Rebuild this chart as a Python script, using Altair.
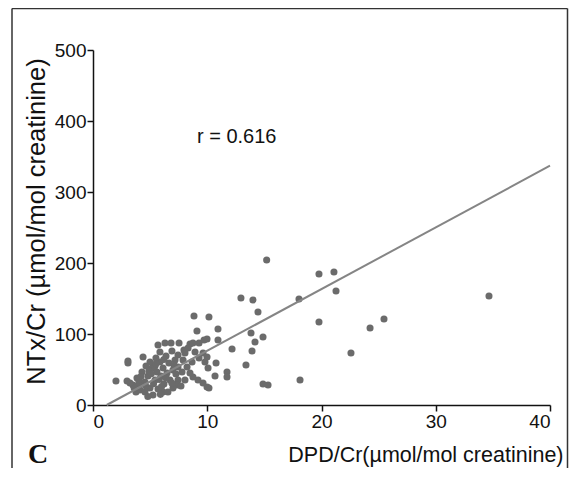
import altair as alt
import pandas as pd

# DPD/Cr (x) and NTx/Cr (y) values
dpd = [15.2, 12.95, 14.0, 14.44, 8.84, 10.15, 19.78, 21.09, 21.27, 18.03,
       19.78, 25.47, 24.25, 22.58, 34.66, 18.12, 14.88, 15.32, 13.83, 14.18,
       13.92, 14.88, 13.39, 12.17, 9.1, 10.94, 10.94, 10.77, 11.73, 11.73,
       10.68, 10.15, 9.98, 9.63, 9.19, 8.75, 8.49, 8.23, 9.8, 10.07,
       9.63, 9.98, 8.05, 7.44, 7.53, 8.49, 8.75, 9.28, 9.72, 9.98,
       6.3, 6.83, 3.06, 3.06, 2.01, 7.44, 7.44, 7.35,
       3.5, 3.85, 4.11, 4.29, 4.55, 3.76, 4.81, 4.99, 5.16, 5.25,
       5.43, 5.6, 5.69, 5.86, 5.95, 6.13, 6.21, 6.39, 6.48, 6.65,
       6.74, 6.91, 7.0, 7.18, 7.26, 5.86, 5.51, 4.99, 4.64, 4.03,
       3.24, 2.98, 4.55, 6.13, 7.88, 7.79, 7.96, 8.32, 6.56, 7.0,
       5.43, 4.9, 8.05, 7.7, 8.93, 9.28, 8.67, 5.69, 4.38,
       4.2, 4.6, 5.1, 5.3, 5.8, 6.0, 6.4, 6.9, 3.6, 4.0,
       5.5, 6.2, 7.1, 4.8, 5.9]
ntx = [204.2, 150.7, 147.9, 131.0, 125.4, 123.9, 184.5, 187.3, 160.6, 149.3,
       116.9, 121.1, 108.5, 73.2, 153.5, 35.2, 29.6, 28.2, 101.4, 88.7,
       76.1, 95.8, 56.3, 78.9, 104.2, 107.0, 91.5, 59.2, 46.5, 39.4,
       40.8, 23.9, 25.4, 31.0, 35.2, 39.4, 45.1, 53.5, 60.6, 52.1,
       73.2, 67.6, 73.2, 70.4, 87.3, 85.9, 87.3, 87.3, 91.5, 93.0,
       87.3, 87.3, 62.0, 59.2, 33.8, 53.5, 35.2, 28.2,
       28.2, 38.0, 21.1, 46.5, 32.4, 18.3, 40.8, 23.9, 52.1, 14.1,
       35.2, 46.5, 22.5, 60.6, 40.8, 52.1, 29.6, 69.0, 45.1, 59.2,
       35.2, 76.1, 49.3, 63.4, 43.7, 74.6, 66.2, 60.6, 54.9, 29.6,
       31.0, 33.8, 18.3, 18.3, 63.4, 46.5, 77.5, 80.3, 18.3, 23.9,
       54.9, 47.9, 35.2, 26.8, 74.6, 66.2, 60.6, 84.5, 67.6,
       40.0, 27.0, 44.0, 30.0, 36.0, 26.0, 38.0, 31.0, 24.0, 35.0,
       58.0, 64.0, 56.0, 12.0, 15.0]

# regression line end points
fit_x = [1.2, 40.0]
fit_y = [0.0, 337.0]

x_ticks = [0, 10, 20, 30, 40]
y_ticks = [0, 100, 200, 300, 400, 500]

r_label = ["r = 0.616"]
r_pos_x = [9.1]
r_pos_y = [377]

pts = pd.DataFrame({"x": dpd, "y": ntx})
fit = pd.DataFrame({"x": fit_x, "y": fit_y})
rtxt = pd.DataFrame({"x": r_pos_x, "y": r_pos_y, "t": r_label})

FONT = "Liberation Sans"

xscale = alt.Scale(domain=[0, 40], nice=False, zero=False)
yscale = alt.Scale(domain=[0, 500], nice=False, zero=False)

xaxis = alt.Axis(values=x_ticks, title="DPD/Cr(µmol/mol creatinine)",
                 titleAnchor="start", titleAlign="right", titleX=470, titleY=50,
                 titleBaseline="middle", titleFontSize=21.5, titleFontWeight="normal",
                 labelFontSize=19, labelPadding=1, tickSize=6, grid=False)
yaxis = alt.Axis(values=y_ticks, title="NTx/Cr (µmol/mol creatinine)",
                 titleAnchor="start", titleAlign="center", titleAngle=270,
                 titleX=-57, titleY=171, titleBaseline="middle",
                 titleFontSize=25.5, titleFontWeight="normal",
                 labelFontSize=19, labelPadding=1, tickSize=6, grid=False)

points = alt.Chart(pts).mark_circle(size=50, color="#6b6b6b", opacity=1).encode(
    x=alt.X("x:Q", scale=xscale, axis=xaxis),
    y=alt.Y("y:Q", scale=yscale, axis=yaxis),
)

line = alt.Chart(fit).mark_line(color="#858585", strokeWidth=2).encode(
    x=alt.X("x:Q", scale=xscale),
    y=alt.Y("y:Q", scale=yscale),
)

rtext = alt.Chart(rtxt).mark_text(align="left", baseline="middle", font=FONT,
                                  fontSize=20, color="#111").encode(
    x=alt.X("x:Q", scale=xscale),
    y=alt.Y("y:Q", scale=yscale),
    text="t:N",
)

panel = alt.Chart(pd.DataFrame({"t": ["C"]})).mark_text(
    align="left", baseline="middle", font="Liberation Serif", fontSize=28,
    fontWeight="bold", color="#111").encode(
    x=alt.value(-65), y=alt.value(405), text="t:N")

frame_l = alt.Chart(pd.DataFrame({"a": [0]})).mark_rule(color="#333", strokeWidth=1.5).encode(
    x=alt.value(-81), y=alt.value(-41.5), y2=alt.value(420))
frame_r = alt.Chart(pd.DataFrame({"a": [0]})).mark_rule(color="#333", strokeWidth=1.5).encode(
    x=alt.value(474.5), y=alt.value(-41.5), y2=alt.value(420))
frame_t = alt.Chart(pd.DataFrame({"a": [0]})).mark_rule(color="#333", strokeWidth=1.5).encode(
    x=alt.value(-81), x2=alt.value(474.5), y=alt.value(-41.5))

chart = alt.layer(points, line, rtext, panel, frame_l, frame_r, frame_t).properties(
    width=457, height=355,
    autosize=alt.AutoSizeParams(type="none"),
    padding={"left": 85, "top": 42, "right": 19, "bottom": 63},
).configure_view(stroke=None).configure_axis(
    labelFont=FONT, titleFont=FONT, labelColor="#111", titleColor="#111",
    domainColor="#111", tickColor="#111", domainWidth=1.5, tickWidth=1.5,
)

chart.save("out.html", embed_options={"renderer": "svg", "actions": False})
